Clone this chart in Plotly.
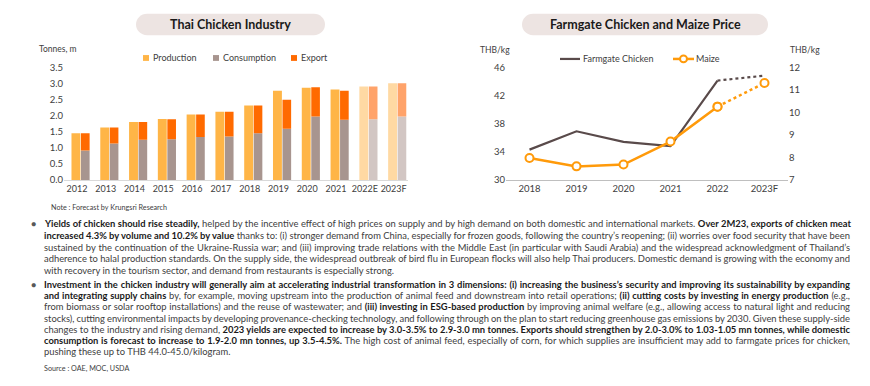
import json
import plotly.graph_objects as go

# ---------------- data ----------------
years = ['2012', '2013', '2014', '2015', '2016', '2017', '2018', '2019', '2020', '2021', '2022E', '2023F']
production = [1.45, 1.63, 1.80, 1.89, 2.03, 2.12, 2.31, 2.77, 2.86, 2.81, 2.90, 3.00]
consumption = [0.91, 1.13, 1.25, 1.26, 1.33, 1.35, 1.45, 1.59, 1.97, 1.87, 1.88, 1.97]
export = [0.54, 0.50, 0.55, 0.62, 0.70, 0.77, 0.86, 0.90, 0.91, 0.90, 1.02, 1.03]

price_years = ['2018', '2019', '2020', '2021', '2022', '2023F']
chicken_price = [34.3, 36.9, 35.4, 34.8, 44.1, 44.8]
maize_price = [7.97, 7.60, 7.68, 8.70, 10.25, 11.30]

left_y_ticks = [0, 0.5, 1.0, 1.5, 2.0, 2.5, 3.0, 3.5]
right_left_ticks = [30, 34, 38, 42, 46]
right_right_ticks = [7, 8, 9, 10, 11, 12]

W, H = 870, 386
FONT = 'Lato'
TXT = '#404040'


def px(x):
    return x / W


def py(y):
    return 1 - y / H


forecast = [y.endswith(('E', 'F')) for y in years]
c_prod = ['#FFD9A3' if f else '#FFB547' for f in forecast]
c_cons = ['#D2C6C3' if f else '#A8958F' for f in forecast]
c_exp = ['#FFA36A' if f else '#FF6A00' for f in forecast]

fig = go.Figure()

# ---- left chart bars ----
fig.add_trace(go.Bar(x=years, y=production, marker=dict(color=c_prod, line=dict(width=0)),
                     offset=-0.19, width=0.31, name='Production', showlegend=False,
                     xaxis='x', yaxis='y'))
fig.add_trace(go.Bar(x=years, y=consumption, marker=dict(color=c_cons, line=dict(width=0)),
                     offset=0.14, width=0.30, name='Consumption', showlegend=False,
                     xaxis='x', yaxis='y'))
fig.add_trace(go.Bar(x=years, y=export, base=consumption, marker=dict(color=c_exp, line=dict(width=0)),
                     offset=0.14, width=0.30, name='Export', showlegend=False,
                     xaxis='x', yaxis='y'))

# ---- right chart lines ----
n_act = 5
fig.add_trace(go.Scatter(x=price_years[:n_act], y=chicken_price[:n_act], mode='lines',
                         line=dict(color='#594A4A', width=2.2), showlegend=False,
                         xaxis='x2', yaxis='y2'))
fig.add_trace(go.Scatter(x=price_years[n_act - 1:], y=chicken_price[n_act - 1:], mode='lines',
                         line=dict(color='#594A4A', width=2.2, dash='dot'), showlegend=False,
                         xaxis='x2', yaxis='y2'))
fig.add_trace(go.Scatter(x=price_years[:n_act], y=maize_price[:n_act], mode='lines+markers',
                         line=dict(color='#FF9A0A', width=2.5),
                         marker=dict(symbol='circle', size=8, color='white',
                                     line=dict(color='#FF9A0A', width=2)),
                         showlegend=False, xaxis='x2', yaxis='y3'))
fig.add_trace(go.Scatter(x=price_years[n_act - 1:], y=maize_price[n_act - 1:], mode='lines+markers',
                         line=dict(color='#FF9A0A', width=2.5, dash='dot'),
                         marker=dict(symbol='circle', size=8, color='white',
                                     line=dict(color='#FF9A0A', width=2)),
                         showlegend=False, xaxis='x2', yaxis='y3'))

tickfont = dict(family=FONT, size=9.5, color=TXT)

fig.update_layout(
    width=W, height=H, margin=dict(l=0, r=0, t=0, b=0),
    paper_bgcolor='white', plot_bgcolor='rgba(0,0,0,0)',
    barmode='overlay', showlegend=False,
    font=dict(family=FONT, color=TXT),
    xaxis=dict(domain=[px(64), px(408)], type='category', categoryarray=years,
               range=[-0.45, 11.5], showgrid=False, showline=True, linecolor='#D9D9D9',
               linewidth=1, ticks='', tickangle=0, tickfont=dict(family=FONT, size=9, color=TXT),
               fixedrange=True),
    yaxis=dict(domain=[py(179), py(63)], range=[0, 3.5], tickvals=left_y_ticks,
               tickformat='.1f', showgrid=False, zeroline=False, showline=False,
               ticks='', tickfont=tickfont, fixedrange=True),
    xaxis2=dict(domain=[px(506), px(788)], type='category', categoryarray=price_years,
                range=[-0.5, 5.5], showgrid=False, showline=True, linecolor='#BFBFBF',
                linewidth=1, ticks='', tickangle=0, tickfont=tickfont, anchor='y2', fixedrange=True),
    yaxis2=dict(domain=[py(179), py(63)], range=[30, 46], tickvals=right_left_ticks,
                showgrid=False, zeroline=False, showline=False, ticks='',
                tickfont=tickfont, anchor='x2', fixedrange=True),
    yaxis3=dict(domain=[py(179), py(63)], range=[7, 12], tickvals=right_right_ticks,
                showgrid=False, zeroline=False, showline=False, ticks='',
                tickfont=tickfont, anchor='x2', overlaying='y2', side='right', fixedrange=True),
)

shapes = []
annotations = []


def pill(x0, y0, x1, y1, color):
    r = (y1 - y0) / 2
    k = 0.5523 * r

    def P(x, y):
        return f'{px(x):.5f},{py(y):.5f}'
    d = (f'M {P(x0 + r, y0)} L {P(x1 - r, y0)} '
         f'C {P(x1 - r + k, y0)} {P(x1, y0 + r - k)} {P(x1, y0 + r)} '
         f'C {P(x1, y0 + r + k)} {P(x1 - r + k, y1)} {P(x1 - r, y1)} '
         f'L {P(x0 + r, y1)} '
         f'C {P(x0 + r - k, y1)} {P(x0, y0 + r + k)} {P(x0, y0 + r)} '
         f'C {P(x0, y0 + r - k)} {P(x0 + r - k, y0)} {P(x0 + r, y0)} Z')
    return dict(type='path', xref='paper', yref='paper', path=d,
                fillcolor=color, line=dict(width=0), layer='below')


def text(x, y, s, size=9, color=TXT, anchor='left', bold=False):
    if bold:
        s = f'<b>{s}</b>'
    annotations.append(dict(x=px(x), y=py(y), xref='paper', yref='paper', text=s,
                            showarrow=False, xanchor=anchor, yanchor='middle', align='left',
                            font=dict(family=FONT, size=size, color=color)))
    return len(annotations) - 1


# titles
shapes.append(pill(136, 8, 325, 30, '#EDE4E2'))
shapes.append(pill(522, 8, 768, 30, '#EDE4E2'))
text(230.5, 19.5, 'Thai Chicken Industry', size=12.5, color='#1a1a1a', anchor='center', bold=True)
text(645, 19.5, 'Farmgate Chicken and Maize Price', size=12.5, color='#1a1a1a', anchor='center', bold=True)

# axis titles
text(37, 44, 'Tonnes, m', size=8.5)
text(478, 45, 'THB/kg', size=8.5)
text(788, 45, 'THB/kg', size=8.5)

# left legend (manual)
for sx, label, col in [(143, 'Production', '#FFB547'), (213, 'Consumption', '#A8958F'), (291, 'Export', '#FF6A00')]:
    shapes.append(dict(type='rect', xref='paper', yref='paper', x0=px(sx), x1=px(sx + 6),
                       y0=py(56.5), y1=py(50.5), fillcolor=col, line=dict(width=0)))
    text(sx + 8, 53.5, label, size=9)

# right legend (manual)
shapes.append(dict(type='line', xref='paper', yref='paper', x0=px(560), x1=px(580),
                   y0=py(54.5), y1=py(54.5), line=dict(color='#594A4A', width=2.2)))
text(581, 54.5, 'Farmgate Chicken', size=9)
shapes.append(dict(type='line', xref='paper', yref='paper', x0=px(673), x1=px(694),
                   y0=py(54.5), y1=py(54.5), line=dict(color='#FF9A0A', width=2.5)))
shapes.append(dict(type='circle', xref='paper', yref='paper', x0=px(680), x1=px(687),
                   y0=py(58), y1=py(51), fillcolor='white', line=dict(color='#FF9A0A', width=2)))
text(694, 54.5, 'Maize', size=9)

# note and source
text(49, 207, 'Note : Forecast by Krungsri Research', size=7.2)
text(42, 373, 'Source : OAE, MOC, USDA', size=7.2)

B = '#1a1a1a'


def b(s):
    return f'<b><span style="color:{B}">{s}</span></b>'


para1 = [
    b('Yields of chicken should rise steadily,') + ' helped by the incentive effect of high prices on supply and by high demand on both domestic and international markets. ' + b('Over 2M23, exports of chicken meat'),
    b('increased 4.3% by volume and 10.2% by value') + ' thanks to: (i) stronger demand from China, especially for frozen goods, following the country’s reopening; (ii) worries over food security that have been',
    'sustained by the continuation of the Ukraine-Russia war; and (iii) improving trade relations with the Middle East (in particular with Saudi Arabia) and the widespread acknowledgment of Thailand’s',
    'adherence to halal production standards. On the supply side, the widespread outbreak of bird flu in European flocks will also help Thai producers. Domestic demand is growing with the economy and',
    'with recovery in the tourism sector, and demand from restaurants is especially strong.',
]
para2 = [
    b('Investment in the chicken industry will generally aim at accelerating industrial transformation in 3 dimensions: (i) increasing the business’s security and improving its sustainability by expanding'),
    b('and integrating supply chains') + ' by, for example, moving upstream into the production of animal feed and downstream into retail operations; ' + b('(ii) cutting costs by investing in energy production') + ' (e.g.,',
    'from biomass or solar rooftop installations) and the reuse of wastewater; and ' + b('(iii) investing in ESG-based production') + ' by improving animal welfare (e.g., allowing access to natural light and reducing',
    'stocks), cutting environmental impacts by developing provenance-checking technology, and following through on the plan to start reducing greenhouse gas emissions by 2030. Given these supply-side',
    'changes to the industry and rising demand, ' + b('2023 yields are expected to increase by 3.0-3.5% to 2.9-3.0 mn tonnes. Exports should strengthen by 2.0-3.0% to 1.03-1.05 mn tonnes, while domestic'),
    b('consumption is forecast to increase to 1.9-2.0 mn tonnes, up 3.5-4.5%.') + ' The high cost of animal feed, especially of corn, for which supplies are insufficient may add to farmgate prices for chicken,',
    'pushing these up to THB 44.0-45.0/kilogram.',
]

BODY = 9.4
TEXT_LEFT, TEXT_RIGHT = 42, 848
justify = []
text(33.5, 224.3, '●', size=8.5, color='#595959', anchor='center')
for i, line in enumerate(para1):
    k = text(TEXT_LEFT, 224.3 + i * 11.9, line, size=BODY)
    if i < len(para1) - 1:
        justify.append(k)
text(33.5, 286.7, '●', size=8.5, color='#595959', anchor='center')
for i, line in enumerate(para2):
    k = text(TEXT_LEFT, 286.7 + i * 11.55, line, size=BODY)
    if i < len(para2) - 1:
        justify.append(k)

fig.update_layout(shapes=shapes, annotations=annotations)

# justify the body lines (as in the reference) by adjusting word spacing,
# keeping each line's left edge where it was
js = """
document.body.style.margin='0';document.body.style.padding='0';
var gd = document.getElementById('{plot_id}');
var idx = %s; var target = %f;
idx.forEach(function(i){
  var g = gd.querySelector('.annotation[data-index="' + i + '"]');
  if (!g) return;
  var t = g.querySelector('text.annotation-text');
  if (!t) return;
  var x0 = t.getBBox().x;
  var len = t.getComputedTextLength();
  var n = (t.textContent.match(/ /g) || []).length;
  if (n > 0) { t.style.wordSpacing = ((target - len) / n) + 'px'; }
  var x1 = t.getBBox().x;
  var tr = t.getAttribute('transform') || '';
  t.setAttribute('transform', tr + ' translate(' + (x0 - x1) + ',0)');
});
""" % (json.dumps(justify), TEXT_RIGHT - TEXT_LEFT)

fig.write_html('out.html', post_script=js, config={'displayModeBar': False})
